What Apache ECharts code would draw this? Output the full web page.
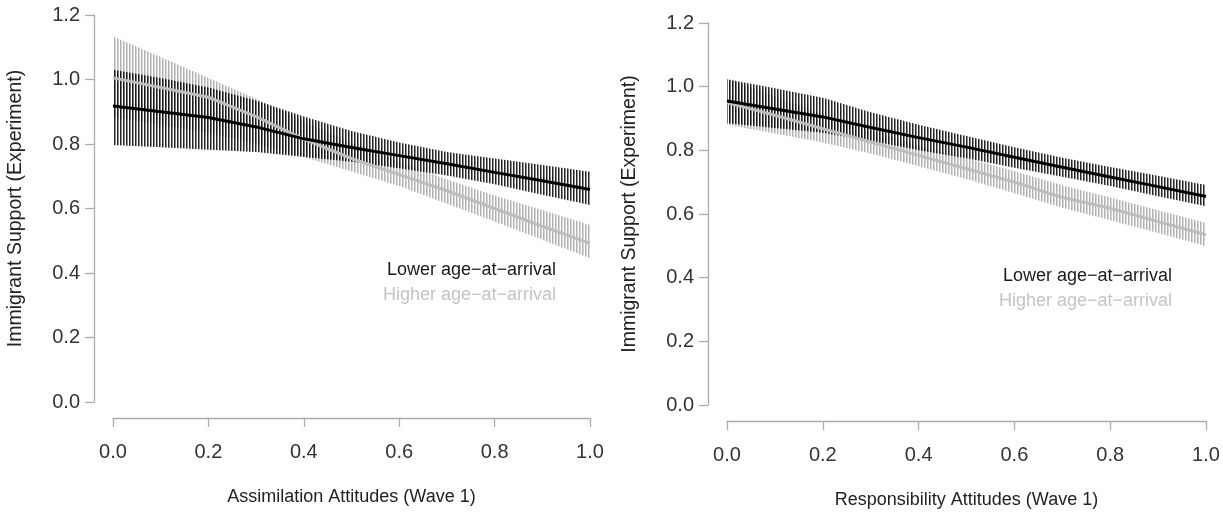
<!DOCTYPE html>
<html><head><meta charset="utf-8">
<script src="https://cdn.jsdelivr.net/npm/echarts@6/dist/echarts.min.js"></script>
<style>html,body{margin:0;padding:0;background:#fff}#c{width:1223px;height:514px}</style>
</head><body><div id="c"></div>
<script>
// ---------- data ----------
const xTickLabels = ['0.0', '0.2', '0.4', '0.6', '0.8', '1.0'];
const yTickLabels = ['0.0', '0.2', '0.4', '0.6', '0.8', '1.0', '1.2'];
const seriesNames = ['Lower age\u2212at\u2212arrival', 'Higher age\u2212at\u2212arrival'];
const xTitles = ['Assimilation Attitudes (Wave 1)', 'Responsibility Attitudes (Wave 1)'];
const yTitle = 'Immigrant Support (Experiment)';

const xGrid = [0, 0.1, 0.2, 0.3, 0.4, 0.5, 0.6, 0.7, 0.8, 0.9, 1.0];

// Panel 1: Assimilation
const assimLowerMean = [0.918, 0.900, 0.882, 0.853, 0.816, 0.789, 0.764, 0.739, 0.712, 0.686, 0.659];
const assimLowerLo   = [0.797, 0.790, 0.782, 0.775, 0.760, 0.745, 0.725, 0.702, 0.675, 0.643, 0.611];
const assimLowerHi   = [1.030, 1.005, 0.975, 0.935, 0.885, 0.840, 0.805, 0.775, 0.755, 0.735, 0.714];
const assimHigherMean = [1.005, 0.975, 0.945, 0.885, 0.815, 0.755, 0.705, 0.655, 0.600, 0.545, 0.492];
const assimHigherLo   = [0.882, 0.860, 0.835, 0.800, 0.760, 0.715, 0.670, 0.615, 0.560, 0.503, 0.446];
const assimHigherHi   = [1.133, 1.070, 1.005, 0.940, 0.870, 0.805, 0.745, 0.690, 0.640, 0.595, 0.549];

// Panel 2: Responsibility
const respLowerMean = [0.955, 0.930, 0.905, 0.872, 0.840, 0.810, 0.778, 0.747, 0.716, 0.686, 0.655];
const respLowerLo   = [0.885, 0.870, 0.855, 0.830, 0.800, 0.775, 0.745, 0.717, 0.688, 0.656, 0.624];
const respLowerHi   = [1.023, 0.995, 0.965, 0.920, 0.880, 0.845, 0.810, 0.777, 0.748, 0.720, 0.691];
const respHigherMean = [0.950, 0.910, 0.868, 0.826, 0.784, 0.742, 0.700, 0.652, 0.618, 0.576, 0.535];
const respHigherLo   = [0.880, 0.853, 0.825, 0.790, 0.750, 0.710, 0.665, 0.620, 0.580, 0.540, 0.499];
const respHigherHi   = [1.025, 0.970, 0.915, 0.862, 0.815, 0.775, 0.735, 0.690, 0.652, 0.612, 0.572];

// ---------- styling helpers ----------
function stripeCanvas(c0, c1) {
  const c = document.createElement('canvas');
  c.width = 3; c.height = 4;
  const g = c.getContext('2d');
  g.fillStyle = c0; g.fillRect(0, 0, 1, 4);
  g.fillStyle = c1; g.fillRect(1, 0, 1, 4);
  return c;
}
const blackStripe = { image: stripeCanvas('rgba(0,0,0,0.85)', 'rgba(0,0,0,0.45)'), repeat: 'repeat' };
const grayStripe  = { image: stripeCanvas('rgba(165,165,165,0.85)', 'rgba(165,165,165,0.45)'), repeat: 'repeat' };

const FONT = '"Liberation Sans", Arial, Helvetica, sans-serif';
const AXIS_GRAY = '#ababab';

function rows(xs, a, b) { return xs.map((x, i) => [x, a[i], b[i]]); }
function pts(xs, ys) { return xs.map((x, i) => [x, ys[i]]); }

function bandSeries(idx, xs, lo, hi, fill, z) {
  return {
    type: 'custom', xAxisIndex: idx, yAxisIndex: idx, z: z, silent: true,
    data: rows(xs, lo, hi),
    encode: { x: 0, y: [1, 2] },
    renderItem: function (params, api) {
      if (params.dataIndex !== 0) return null;
      const top = [], bot = [];
      for (let i = 0; i < xs.length; i++) {
        top.push(api.coord([xs[i], hi[i]]));
        bot.push(api.coord([xs[i], lo[i]]));
      }
      return { type: 'polygon', shape: { points: top.concat(bot.reverse()) }, style: { fill: fill, stroke: null } };
    }
  };
}
function lineSeries(idx, xs, ys, color, z) {
  return {
    type: 'line', xAxisIndex: idx, yAxisIndex: idx, z: z, silent: true,
    data: pts(xs, ys), showSymbol: false, symbol: 'none',
    lineStyle: { color: color, width: 3 }, itemStyle: { color: color }
  };
}
function xAxisCfg(idx) {
  return {
    type: 'value', gridIndex: idx, min: 0, max: 1, interval: 0.2, offset: 16,
    axisLine: { show: true, onZero: false, lineStyle: { color: AXIS_GRAY, width: 1.3 } },
    axisTick: { show: true, length: 9, lineStyle: { color: AXIS_GRAY, width: 1.3 } },
    axisLabel: { margin: 24, fontSize: 20, color: '#333', fontFamily: FONT,
      formatter: v => xTickLabels[Math.round(v / 0.2)] },
    splitLine: { show: false },
    name: xTitles[idx], nameLocation: 'middle', nameGap: 70,
    nameTextStyle: { fontSize: 18, color: '#222', fontFamily: FONT }
  };
}
function yAxisCfg(idx) {
  return {
    type: 'value', gridIndex: idx, min: 0, max: 1.2, interval: 0.2, offset: 19,
    axisLine: { show: true, onZero: false, lineStyle: { color: AXIS_GRAY, width: 1.3 } },
    axisTick: { show: true, length: 9, lineStyle: { color: AXIS_GRAY, width: 1.3 } },
    axisLabel: { margin: 14, fontSize: 20, color: '#333', fontFamily: FONT,
      formatter: v => yTickLabels[Math.round(v / 0.2)] },
    splitLine: { show: false },
    name: yTitle, nameLocation: 'middle', nameGap: 68,
    nameTextStyle: { fontSize: 19.5, color: '#222', fontFamily: FONT }
  };
}
function legendText(x, y, text, color) {
  return { type: 'text', x: x, y: y, silent: true,
    style: { text: text, fill: color, font: '18px ' + FONT, align: 'right', verticalAlign: 'middle' } };
}

const chart = echarts.init(document.getElementById('c'), null, { renderer: 'canvas' });
chart.setOption({
  animation: false,
  backgroundColor: '#fff',
  grid: [
    { left: 113, top: 15, width: 477, height: 387 },
    { left: 727, top: 23, width: 479, height: 385.5 }
  ],
  xAxis: [xAxisCfg(0), xAxisCfg(1)],
  yAxis: [yAxisCfg(0), yAxisCfg(1)],
  series: [
    bandSeries(0, xGrid, assimHigherLo, assimHigherHi, grayStripe, 1),
    bandSeries(0, xGrid, assimLowerLo, assimLowerHi, blackStripe, 2),
    lineSeries(0, xGrid, assimHigherMean, '#bdbdbd', 3),
    lineSeries(0, xGrid, assimLowerMean, '#000000', 4),
    bandSeries(1, xGrid, respHigherLo, respHigherHi, grayStripe, 1),
    bandSeries(1, xGrid, respLowerLo, respLowerHi, blackStripe, 2),
    lineSeries(1, xGrid, respHigherMean, '#bdbdbd', 3),
    lineSeries(1, xGrid, respLowerMean, '#000000', 4)
  ],
  graphic: [
    legendText(556, 270, seriesNames[0], '#1a1a1a'),
    legendText(556, 295, seriesNames[1], '#c4c4c4'),
    legendText(1172, 276, seriesNames[0], '#1a1a1a'),
    legendText(1172, 301, seriesNames[1], '#c4c4c4')
  ]
});
</script>
</body></html>
